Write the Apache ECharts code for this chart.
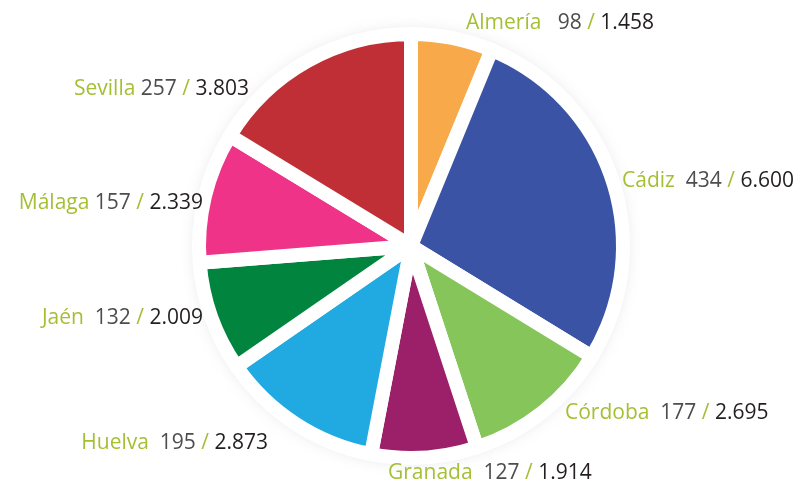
<!DOCTYPE html>
<html><head><meta charset="utf-8">
<script src="https://cdn.jsdelivr.net/npm/echarts@6/dist/echarts.min.js"></script>
<style>html,body{margin:0;padding:0;background:#fff}#c{width:808px;height:485px}</style>
</head><body><div id="c"></div>
<script>
const categories = ['Almería','Cádiz','Córdoba','Granada','Huelva','Jaén','Málaga','Sevilla'];
const valuesA = [98,434,177,127,195,132,157,257];
const valuesB = [1458,6600,2695,1914,2873,2009,2339,3803];
const colors = ['#F8A94A','#3A53A4','#85C55A','#9C1F6A','#20AAE1','#00843E','#EE3388','#C12F36'];

function fmt(n){ return String(n).replace(/\B(?=(\d{3})+(?!\d))/g,'.'); }
// spaces between name and first number, as in the original
const nameGap = [3,2,2,2,2,2,1,1];

// label anchor layout (x, y, align) for each slice
const labelAnchors = [
  [466, 23, 'left'], [622, 181, 'left'], [565, 413, 'left'], [388, 473, 'left'],
  [268, 443, 'right'], [203, 318, 'right'], [203, 203, 'right'], [249, 89, 'right']
];

const chart = echarts.init(document.getElementById('c'), null, {renderer:'canvas'});
const center = [411, 246];
const FONT = '"Open Sans"';
const FS = 21;
const dataTop = categories.map((c,i)=>({name:c, value:valuesA[i], itemStyle:{color:colors[i]}}));
const dataShadow = categories.map((c,i)=>({name:c, value:valuesA[i], itemStyle:{color:colors[i]}}));

chart.setOption({
  animation:false,
  backgroundColor:'#ffffff',
  series:[
    {
      type:'pie', silent:true, center:center, radius:[0,206], startAngle:90, clockwise:true,
      data:dataShadow, label:{show:false}, labelLine:{show:false},
      itemStyle:{shadowBlur:22, shadowColor:'rgba(0,0,0,0.35)'}
    },
    {
      type:'pie', silent:true, center:center, radius:[0,212], startAngle:90, clockwise:true,
      data:dataTop,
      itemStyle:{borderColor:'#ffffff', borderWidth:14},
      labelLine:{show:false, length:4, length2:8},
      labelLayout:function(p){
        const a = labelAnchors[p.dataIndex];
        return {x:a[0], y:a[1], align:a[2], verticalAlign:'middle', width:260};
      },
      label:{
        show:true, position:'outside', overflow:'none', edgeDistance:0,
        fontFamily:FONT, fontSize:FS, color:'#4d4d4f',
        formatter:function(p){
          const i=p.dataIndex;
          const gap = ' '.repeat(nameGap[i]);
          return '{n|'+p.name+'}'+gap+'{v|'+valuesA[i]+'} {s|/} {w|'+fmt(valuesB[i])+'}';
        },
        rich:{
          n:{color:'#A5BF35', fontFamily:FONT, fontSize:FS},
          v:{color:'#4d4d4f', fontFamily:FONT, fontSize:FS},
          s:{color:'#A5BF35', fontFamily:FONT, fontSize:FS},
          w:{color:'#231f20', fontFamily:FONT, fontSize:FS}
        }
      }
    }
  ]
});
</script></body></html>
